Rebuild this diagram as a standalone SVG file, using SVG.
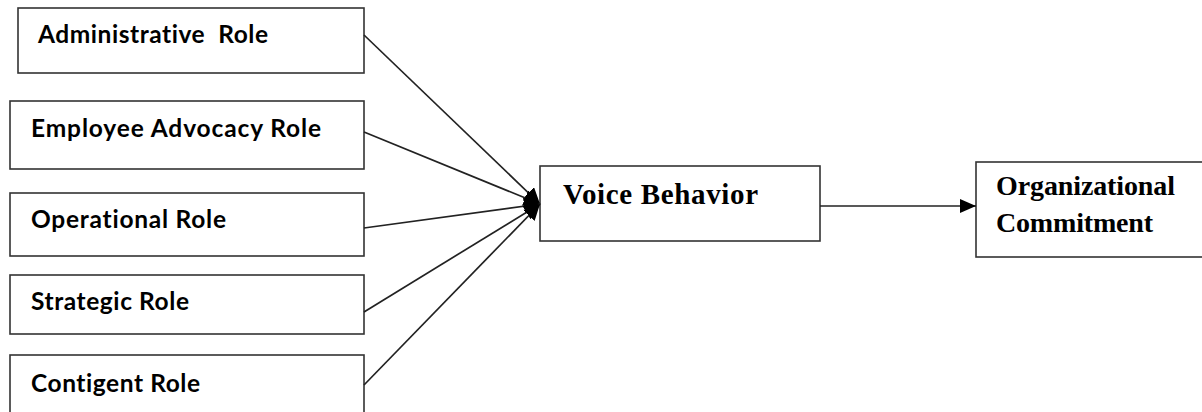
<svg xmlns="http://www.w3.org/2000/svg" width="1202" height="412" viewBox="0 0 1202 412">
<style>
.box{fill:#fff;stroke:#333;stroke-width:1.6}
.role{font-family:Lato,"Liberation Sans",sans-serif;font-weight:bold;font-size:24.5px;fill:#000;font-variant-ligatures:none}
.serif{font-family:"Liberation Serif","Times New Roman",serif;font-weight:bold;fill:#000}
.conn{stroke:#222;stroke-width:1.7;fill:none}
</style>
<defs>
<marker id="head" markerUnits="userSpaceOnUse" markerWidth="20" markerHeight="20" refX="16" refY="8" orient="auto">
<path d="M0,0 L16,8 L0,16 z" fill="#000"/>
</marker>
<marker id="head2" markerUnits="userSpaceOnUse" markerWidth="18" markerHeight="18" refX="16" refY="7" orient="auto">
<path d="M0,0 L16,7 L0,14 z" fill="#000"/>
</marker>
</defs>
<rect width="1202" height="412" fill="#fff"/>
<g id="administrative">
<rect class="box" x="18" y="8" width="346" height="65"/>
<text class="role" x="38" y="43" textLength="230" xml:space="preserve">Administrative  Role</text>
</g>
<g id="employee">
<rect class="box" x="10" y="101" width="354" height="68"/>
<text class="role" x="31" y="137" textLength="290">Employee Advocacy Role</text>
</g>
<g id="operational">
<rect class="box" x="10" y="193" width="354" height="63"/>
<text class="role" x="31" y="228" textLength="195">Operational Role</text>
</g>
<g id="strategic">
<rect class="box" x="10" y="275" width="354" height="59"/>
<text class="role" x="31" y="310" textLength="158">Strategic Role</text>
</g>
<g id="contigent">
<rect class="box" x="10" y="355" width="354" height="70"/>
<text class="role" x="31" y="392" textLength="169">Contigent Role</text>
</g>
<g id="voice">
<rect class="box" x="540" y="166" width="280" height="75"/>
<text class="serif" x="563" y="204" font-size="29" textLength="195">Voice Behavior</text>
</g>
<g id="commitment">
<rect class="box" x="976" y="162" width="240" height="95"/>
<text class="serif" x="996" y="195" font-size="28" textLength="179">Organizational</text>
<text class="serif" x="996" y="232" font-size="28" textLength="157">Commitment</text>
</g>
<g id="connectors">
<line class="conn" x1="364" y1="35" x2="540" y2="204" marker-end="url(#head)"/>
<line class="conn" x1="364" y1="132" x2="540" y2="204" marker-end="url(#head)"/>
<line class="conn" x1="364" y1="228" x2="540" y2="204" marker-end="url(#head)"/>
<line class="conn" x1="364" y1="312" x2="540" y2="204" marker-end="url(#head)"/>
<line class="conn" x1="364" y1="385" x2="540" y2="204" marker-end="url(#head)"/>
<line class="conn" x1="820" y1="206" x2="976" y2="206" marker-end="url(#head2)"/>
</g>
</svg>
